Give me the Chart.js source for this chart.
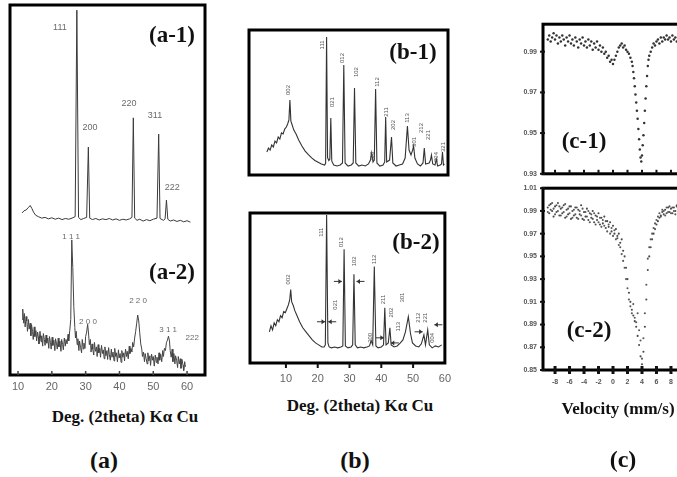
<!DOCTYPE html>
<html><head><meta charset="utf-8">
<script src="https://cdn.jsdelivr.net/npm/chart.js@4.4.1/dist/chart.umd.min.js"></script>
<style>
html,body{margin:0;padding:0;background:#fff;}
body{width:677px;height:477px;overflow:hidden;position:relative;}
canvas{position:absolute;}
.t{position:absolute;font-family:"Liberation Serif","DejaVu Serif",serif;font-weight:bold;color:#111;white-space:nowrap;line-height:1;transform:translate(-50%,-50%);}
.p{font-size:23px;}
.ax{font-size:17px;}
.cap{font-size:24px;}
</style></head><body>
<canvas id="cA" width="215" height="395" style="left:0;top:0"></canvas>
<canvas id="cB1" width="220" height="165" style="left:240px;top:20px"></canvas>
<canvas id="cB2" width="220" height="185" style="left:240px;top:205px"></canvas>
<canvas id="cC1" width="190" height="170" style="left:500px;top:14px"></canvas>
<canvas id="cC2" width="190" height="222" style="left:500px;top:178px"></canvas>

<div class="t p" style="left:172px;top:34px">(a-1)</div>
<div class="t p" style="left:172px;top:271px">(a-2)</div>
<div class="t p" style="left:413px;top:51px">(b-1)</div>
<div class="t p" style="left:416px;top:241px">(b-2)</div>
<div class="t p" style="left:584px;top:140px">(c-1)</div>
<div class="t p" style="left:589px;top:329px">(c-2)</div>
<div class="t ax" style="left:125px;top:416px">Deg. (2theta) Kα Cu</div>
<div class="t ax" style="left:360px;top:405px">Deg. (2theta) Kα Cu</div>
<div class="t ax" style="left:618px;top:408px">Velocity (mm/s)</div>
<div class="t cap" style="left:104px;top:460px">(a)</div>
<div class="t cap" style="left:355px;top:460px">(b)</div>
<div class="t cap" style="left:623px;top:459px">(c)</div>

<script>
// ---------------- DATA ----------------
// (a) XRD, 2theta (deg) vs intensity (arb. units)
const aTickDeg = [10,20,30,40,50,60];
const a1Deg = [11.2,11.8,12.4,13.0,13.6,14.1,14.6,15.2,16.0,17.0,18.0,19.0,20.0,21.0,22.0,23.0,24.0,25.0,26.0,26.9,27.4,27.9,28.6,29.4,30.3,30.8,31.2,32.0,33.0,34.0,35.0,36.0,37.0,38.0,39.0,40.0,41.0,42.0,43.0,43.7,44.1,44.5,45.2,46.0,47.0,48.0,49.0,50.0,51.1,51.6,52.0,53.0,53.5,53.9,54.3,55.0,56.0,57.0,58.0,59.0,60.0,61.0];
const a1Int = [438,444,446,452,458,450,440,432,428,424,426,422,425,421,424,420,423,421,424,428,986,426,420,423,426,616,424,420,423,419,422,420,423,419,422,418,421,419,422,426,695,424,418,421,416,420,417,421,424,651,423,418,422,473,421,416,419,415,418,414,417,413];
const a2Deg = [11.2,11.4,11.7,11.9,12.1,12.4,12.6,12.8,13.1,13.3,
  13.6,13.8,14.0,14.3,14.5,14.8,15.0,15.3,15.5,15.8,
  16.0,16.2,16.5,16.8,17.0,17.3,17.5,17.8,18.0,18.3,
  18.5,18.8,19.1,19.3,19.6,19.8,20.1,20.3,20.6,20.9,
  21.1,21.4,21.6,21.9,22.1,22.4,22.7,22.9,23.2,23.4,
  23.7,24.0,24.2,24.5,24.8,25.0,25.3,25.6,25.9,26.2,
  26.5,26.8,27.0,27.2,27.5,27.7,28.0,28.2,28.5,28.8,
  29.0,29.3,29.5,29.8,30.0,30.3,30.6,30.9,31.1,31.4,
  31.6,31.9,32.1,32.4,32.6,32.9,33.2,33.4,33.7,33.9,
  34.2,34.4,34.7,35.0,35.2,35.5,35.7,36.0,36.3,36.5,
  36.8,37.0,37.3,37.6,37.8,38.1,38.4,38.6,38.9,39.1,
  39.4,39.7,39.9,40.2,40.5,40.7,41.0,41.3,41.5,41.8,
  42.1,42.3,42.6,42.9,43.1,43.4,43.7,43.9,44.2,44.5,
  44.8,45.1,45.4,45.7,46.0,46.3,46.6,46.8,47.1,47.4,
  47.6,47.9,48.2,48.4,48.7,49.0,49.2,49.5,49.8,50.0,
  50.3,50.6,50.9,51.1,51.4,51.7,51.9,52.2,52.5,52.8,
  53.0,53.3,53.6,53.9,54.2,54.5,54.8,55.0,55.3,55.6,
  55.8,56.1,56.4,56.6,56.9,57.2,57.4,57.7,58.0,58.2,
  58.5,58.8,59.0,59.3,59.5];
const a2Int = [150,178,140,166,130,158,146,118,150,124,
  140,106,136,118,96,130,104,120,92,116,
  104,84,118,90,106,78,112,96,80,108,
  86,100,72,104,88,70,102,80,94,66,
  98,84,70,100,76,92,64,96,82,68,
  100,78,96,84,110,92,120,150,365,290,
  185,128,100,118,82,98,66,92,74,60,
  96,70,86,72,104,116,137,108,82,96,
  62,84,70,54,88,64,76,50,82,60,
  72,48,80,58,68,44,76,52,66,42,
  74,56,40,70,48,62,38,72,50,60,
  36,68,46,58,34,66,48,60,38,70,
  50,64,44,78,58,72,62,88,76,100,
  118,140,162,146,114,84,70,50,62,36,
  58,44,30,60,38,52,26,56,40,50,
  24,54,34,48,30,60,40,56,36,66,
  50,72,66,88,94,105,92,66,48,70,
  36,58,30,52,40,20,50,30,44,18,
  42,26,12,36,22];
const a1PeakText = ['111','200','220','311','222'];
const a1PeakDeg = [22.4,31.3,42.8,50.5,55.6];
const a1PeakInt = [938,668,735,700,508];
const a2PeakText = ['1 1 1','2 0 0','2 2 0','3 1 1','222'];
const a2PeakDeg = [25.7,30.7,45.5,54.4,61.5];
const a2PeakInt = [373,143,200,122,100];

// (b) XRD
const bTickDeg = [10,20,30,40,50,60];
const b1Deg = [4.2,4.7,5.2,5.7,6.2,6.7,7.2,7.7,8.2,8.7,9.2,9.7,10.2,10.6,11.0,11.3,11.6,12.0,12.5,13.2,14.0,15.0,16.0,17.0,18.0,19.0,20.0,21.0,22.0,22.3,22.6,22.9,23.3,23.6,23.9,24.2,24.8,25.8,26.8,27.5,27.9,28.3,29.2,30.2,30.8,31.2,31.6,32.5,33.5,34.5,35.5,36.1,36.5,36.9,37.3,37.7,38.1,39.0,40.0,40.5,40.8,41.1,42.0,42.6,43.0,44.0,45.0,46.0,46.8,47.5,48.0,48.6,49.1,49.4,49.8,50.6,51.5,52.3,52.7,53.1,54.2,54.6,54.9,55.3,56.0,56.4,56.8,57.6,58.0,58.3,58.6,58.9];
const b1Int = [159,186,172,207,193,234,221,262,248,290,283,317,331,352,380,517,372,345,310,283,241,200,165,140,118,100,88,76,69,80,952,120,100,110,393,95,69,62,69,83,759,83,62,69,83,600,83,62,69,62,76,103,152,90,103,593,83,62,69,90,400,90,103,262,83,62,69,76,117,338,172,138,172,200,117,76,62,83,186,76,83,103,138,76,69,110,62,69,76,159,69,76];
const b2Deg = [4.8,5.3,5.8,6.3,6.8,7.3,7.8,8.3,8.8,9.3,9.8,10.3,10.8,11.2,11.5,11.8,12.3,12.8,13.5,14.3,15.3,16.3,17.3,18.3,19.3,20.3,21.3,22.0,22.4,22.8,23.2,23.6,24.3,25.3,26.3,27.3,27.9,28.3,28.7,29.5,30.5,31.0,31.4,31.8,32.5,33.5,34.5,35.5,36.3,36.8,37.3,37.8,38.3,39.0,40.0,40.7,41.1,41.5,42.2,42.7,43.1,44.0,45.0,46.0,46.8,47.6,48.5,49.2,49.8,50.8,51.8,52.6,53.4,53.9,54.6,55.1,56.0,57.0,58.0,59.0];
const b2Int = [208,248,221,268,248,289,275,315,302,342,336,362,389,423,490,409,383,349,315,275,235,208,181,154,134,121,107,107,121,987,134,107,101,107,101,107,114,758,114,101,107,121,591,121,101,107,101,107,114,150,121,644,114,101,107,121,369,121,134,235,121,107,114,134,154,208,309,195,134,114,107,128,188,121,221,121,101,114,107,121];
const b1PeakText = ['002','111','021','012','102','200','112','211','202','113','301','212','221','004','321'];
const b1PeakDeg = [10.7,21.4,24.4,27.6,31.9,36.7,38.3,41.1,43.2,47.5,49.7,51.8,54.0,56.4,58.6];
const b1PeakInt = [586,897,503,807,710,126,641,434,345,393,228,324,276,124,193];
const b2PeakText = ['002','111','021','012','102','200','112','211','202','113','301','212','221','004'];
const b2PeakDeg = [10.9,21.0,25.6,27.4,31.4,36.6,37.8,40.8,43.3,45.4,46.6,51.5,53.7,56.1];
const b2PeakInt = [557,872,389,805,678,168,691,423,336,242,436,302,302,168];
const b2ArrowDeg = [22.3,23.3,27.6,32.2,40.8,43.0,53.0,56.7];
const b2ArrowInt = [275,275,544,544,168,134,208,255];
const b2ArrowDir = [1,-1,1,-1,1,-1,1,-1];

// (c) Moessbauer, velocity (mm/s) vs relative transmission
const cVelTicks = [-8,-6,-4,-2,0,2,4,6,8];
const c1TransTicks = [0.93,0.95,0.97,0.99];
const c2TransTicks = [0.85,0.87,0.89,0.91,0.93,0.95,0.97,0.99,1.01];
const c1Vel = [-9.0,-8.8,-8.6,-8.4,-8.2,-8.0,-7.8,-7.6,-7.4,-7.2,-7.0,-6.8,-6.6,-6.4,-6.2,-6.0,-5.8,-5.6,-5.4,-5.2,-5.0,-4.8,-4.6,-4.4,-4.2,-4.0,-3.8,-3.6,-3.4,-3.2,-3.0,-2.8,-2.6,-2.4,-2.2,-2.0,-1.8,-1.6,-1.4,-1.2,-1.0,-0.8,-0.6,-0.4,-0.2,0.0,0.2,0.4,0.6,0.8,1.0,1.2,1.4,1.6,1.8,2.0,2.2,2.4,2.6,2.7,2.8,2.9,3.0,3.1,3.2,3.3,3.4,3.5,3.6,3.7,3.8,3.9,4.0,4.1,4.2,4.3,4.4,4.5,4.6,4.7,4.8,4.9,5.0,5.2,5.4,5.6,5.8,6.0,6.2,6.4,6.6,6.8,7.0,7.2,7.4,7.6,7.8,8.0,8.2,8.4,8.6,8.8,9.0];
const c1Trans = [0.996,0.998,0.995,0.997,0.999,0.996,0.998,0.994,0.997,0.995,0.998,0.996,0.993,0.997,0.995,0.998,0.994,0.996,0.993,0.997,0.995,0.992,0.996,0.994,0.997,0.993,0.995,0.992,0.996,0.993,0.995,0.991,0.994,0.992,0.995,0.991,0.993,0.990,0.992,0.989,0.990,0.987,0.988,0.985,0.986,0.984,0.986,0.988,0.990,0.992,0.993,0.994,0.992,0.993,0.991,0.990,0.989,0.987,0.985,0.983,0.980,0.977,0.973,0.969,0.965,0.961,0.957,0.952,0.947,0.942,0.938,0.936,0.939,0.944,0.949,0.955,0.961,0.967,0.973,0.978,0.983,0.986,0.988,0.990,0.992,0.994,0.993,0.995,0.996,0.994,0.997,0.995,0.997,0.996,0.998,0.996,0.997,0.995,0.998,0.996,0.997,0.995,0.997];
const c2Vel = [-9.0,-8.8,-8.6,-8.4,-8.2,-8.0,-7.8,-7.6,-7.4,-7.2,-7.0,-6.8,-6.6,-6.4,-6.2,-6.0,-5.8,-5.6,-5.4,-5.2,-5.0,-4.8,-4.6,-4.4,-4.2,-4.0,-3.8,-3.6,-3.4,-3.2,-3.0,-2.8,-2.6,-2.4,-2.2,-2.0,-1.8,-1.6,-1.4,-1.2,-1.0,-0.8,-0.6,-0.4,-0.2,0.0,0.2,0.4,0.6,0.8,1.0,1.2,1.4,1.6,1.8,2.0,2.2,2.4,2.6,2.8,3.0,3.2,3.4,3.6,3.8,4.0,4.2,4.4,4.6,4.8,5.0,5.2,5.4,5.6,5.8,6.0,6.2,6.4,6.6,6.8,7.0,7.2,7.4,7.6,7.8,8.0,8.2,8.4,8.6,8.8,9.0];
const c2TransA = [0.993,0.988,0.996,0.990,0.985,0.994,0.989,0.997,0.986,0.992,0.988,0.995,0.984,0.991,0.987,0.994,0.983,0.990,0.986,0.993,0.984,0.991,0.987,0.995,0.983,0.989,0.985,0.992,0.982,0.988,0.984,0.990,0.980,0.986,0.982,0.988,0.978,0.984,0.979,0.985,0.975,0.981,0.976,0.980,0.972,0.977,0.970,0.974,0.966,0.970,0.962,0.965,0.955,0.950,0.940,0.930,0.918,0.910,0.903,0.898,0.893,0.888,0.880,0.872,0.862,0.855,0.866,0.888,0.912,0.938,0.950,0.958,0.965,0.970,0.974,0.978,0.981,0.984,0.986,0.989,0.987,0.991,0.988,0.993,0.989,0.992,0.988,0.993,0.990,0.994,0.989];
const c2TransB = [0.989,0.995,0.991,0.997,0.992,0.987,0.995,0.990,0.994,0.986,0.993,0.989,0.996,0.985,0.992,0.988,0.994,0.984,0.991,0.987,0.993,0.983,0.990,0.986,0.992,0.982,0.989,0.985,0.990,0.980,0.987,0.983,0.988,0.978,0.985,0.980,0.984,0.976,0.982,0.977,0.981,0.972,0.978,0.970,0.975,0.968,0.973,0.965,0.968,0.960,0.958,0.952,0.946,0.940,0.930,0.922,0.912,0.906,0.900,0.908,0.896,0.892,0.900,0.885,0.876,0.860,0.878,0.900,0.925,0.948,0.958,0.965,0.970,0.975,0.979,0.982,0.985,0.988,0.985,0.991,0.990,0.986,0.993,0.989,0.994,0.988,0.993,0.990,0.987,0.995,0.992];

// ---------------- HELPERS ----------------
const pts = (xs, ys) => xs.map((x, i) => ({x, y: ys[i]}));
const fixTicks = vals => s => { s.ticks = vals.map(v => ({value: v})); };

function decor(cfg) {
  return {
    id: 'decor',
    afterDatasetsDraw(chart) {
      const ctx = chart.ctx, a = chart.chartArea, sx = chart.scales.x, sy = chart.scales.y;
      ctx.save();
      if (cfg.labels) {
        cfg.labels.forEach(L => {
          ctx.fillStyle = L.color; ctx.font = L.font;
          ctx.textAlign = 'center'; ctx.textBaseline = 'middle';
          L.text.forEach((t, i) => {
            const px = sx.getPixelForValue(L.x[i]), py = sy.getPixelForValue(L.y[i]);
            if (L.rotate) { ctx.save(); ctx.translate(px, py); ctx.rotate(-Math.PI / 2); ctx.fillText(t, 0, 0); ctx.restore(); }
            else ctx.fillText(t, px, py);
          });
        });
      }
      if (cfg.arrows) {
        const A = cfg.arrows;
        ctx.strokeStyle = '#333'; ctx.fillStyle = '#333'; ctx.lineWidth = 1;
        A.x.forEach((v, i) => {
          const px = sx.getPixelForValue(v), py = sy.getPixelForValue(A.y[i]), d = A.dir[i];
          ctx.beginPath(); ctx.moveTo(px - d * 8, py); ctx.lineTo(px, py); ctx.stroke();
          ctx.beginPath(); ctx.moveTo(px, py); ctx.lineTo(px - d * 3.5, py - 2.5); ctx.lineTo(px - d * 3.5, py + 2.5); ctx.closePath(); ctx.fill();
        });
      }
      ctx.strokeStyle = '#000'; ctx.lineWidth = cfg.lw;
      ctx.strokeRect(a.left, a.top, a.right - a.left, a.bottom - a.top);
      ctx.fillStyle = cfg.tickColor || '#111';
      (cfg.xTicks || []).forEach(v => {
        const p = sx.getPixelForValue(v);
        ctx.fillRect(p - cfg.xTickW / 2, a.bottom + cfg.xTickOff, cfg.xTickW, cfg.xTickLen);
      });
      (cfg.yTicks || []).forEach(v => {
        const p = sy.getPixelForValue(v);
        ctx.fillRect(a.left + cfg.yTickOff, p - cfg.yTickW / 2, cfg.yTickLen, cfg.yTickW);
      });
      ctx.restore();
    }
  };
}

const base = {
  responsive: false, animation: false, events: [],
  plugins: {legend: {display: false}, tooltip: {enabled: false}}
};
const lineDs = (d, c, w) => ({data: d, borderColor: c, borderWidth: w, pointRadius: 0, tension: 0, fill: false});
const hiddenY = (min, max) => ({display: false, min, max});
const xAxis = (min, max, vals, h, pad, font, color, cb) => ({
  type: 'linear', min, max, afterBuildTicks: fixTicks(vals), afterFit: s => { s.height = h; },
  grid: {display: false, drawTicks: false}, border: {display: false},
  ticks: {color, font, padding: pad, maxRotation: 0, autoSkip: false, callback: cb || (v => String(v))}
});

// ---------------- (a) ----------------
new Chart(document.getElementById('cA'), {
  type: 'line',
  data: {datasets: [lineDs(pts(a1Deg, a1Int), '#3a3a3a', 1), lineDs(pts(a2Deg, a2Int), '#444', 1)]},
  options: Object.assign({}, base, {
    layout: {padding: {left: 10, top: 5, right: 10, bottom: 0}},
    scales: {
      x: xAxis(7.63, 65.3, aTickDeg, 20, 5, {family: 'Liberation Sans', size: 11}, '#666'),
      y: hiddenY(0, 1000)
    }
  }),
  plugins: [decor({
    lw: 3, xTicks: aTickDeg, xTickW: 1.5, xTickOff: -4, xTickLen: 4, tickColor: '#444',
    labels: [
      {text: a1PeakText, x: a1PeakDeg, y: a1PeakInt, font: '9px "Liberation Sans"', color: '#6a6a6a'},
      {text: a2PeakText, x: a2PeakDeg, y: a2PeakInt, font: '8px "Liberation Sans"', color: '#6a6a6a'}
    ]
  })]
});

// ---------------- (b-1) ----------------
new Chart(document.getElementById('cB1'), {
  type: 'line',
  data: {datasets: [lineDs(pts(b1Deg, b1Int), '#333', 1.1)]},
  options: Object.assign({}, base, {
    layout: {padding: {left: 9, top: 10, right: 12, bottom: 10}},
    scales: {x: {type: 'linear', display: false, min: -1.3, max: 60}, y: hiddenY(0, 1000)}
  }),
  plugins: [decor({
    lw: 3,
    labels: [{text: b1PeakText, x: b1PeakDeg, y: b1PeakInt, font: '6px "Liberation Sans"', color: '#555', rotate: true}]
  })]
});

// ---------------- (b-2) ----------------
new Chart(document.getElementById('cB2'), {
  type: 'line',
  data: {datasets: [lineDs(pts(b2Deg, b2Int), '#333', 1.1)]},
  options: Object.assign({}, base, {
    layout: {padding: {left: 10, top: 8, right: 10, bottom: 0}},
    scales: {
      x: xAxis(-1.3, 60, bTickDeg, 27, 9, {family: 'Liberation Sans', size: 11}, '#666'),
      y: hiddenY(0, 1000)
    }
  }),
  plugins: [decor({
    lw: 3, xTicks: bTickDeg.slice(0, 5), xTickW: 2, xTickOff: 0, xTickLen: 5,
    labels: [{text: b2PeakText, x: b2PeakDeg, y: b2PeakInt, font: '6px "Liberation Sans"', color: '#555', rotate: true}],
    arrows: {x: b2ArrowDeg, y: b2ArrowInt, dir: b2ArrowDir}
  })]
});

// ---------------- (c) ----------------
const cYAxis = (min, max, vals) => ({
  type: 'linear', min, max, afterBuildTicks: fixTicks(vals), afterFit: s => { s.width = 43; },
  grid: {display: false, drawTicks: false}, border: {display: false},
  ticks: {color: '#555', font: {family: 'Liberation Sans', size: 7, weight: 'bold'}, padding: 6, autoSkip: false, callback: v => v.toFixed(2)}
});
const dots = (d, c, r) => ({data: d, backgroundColor: c, borderWidth: 0, pointRadius: r, showLine: false});

new Chart(document.getElementById('cC1'), {
  type: 'scatter',
  data: {datasets: [dots(pts(c1Vel, c1Trans), '#333', 1.25)]},
  options: Object.assign({}, base, {
    layout: {padding: {left: 0, top: 10, right: 7, bottom: 9}},
    scales: {x: {type: 'linear', display: false, min: -9.66, max: 9.66}, y: cYAxis(0.93, 1.0035, c1TransTicks)}
  }),
  plugins: [decor({lw: 3, xTicks: cVelTicks, xTickW: 2, xTickOff: -4, xTickLen: 4,
    yTicks: c1TransTicks, yTickW: 2, yTickOff: -3, yTickLen: 5})]
});

new Chart(document.getElementById('cC2'), {
  type: 'scatter',
  data: {datasets: [dots(pts(c2Vel, c2TransA), '#4a4a4a', 1.05), dots(pts(c2Vel, c2TransB), '#5a5a5a', 1.05)]},
  options: Object.assign({}, base, {
    layout: {padding: {left: 0, top: 8, right: 7, bottom: 0}},
    scales: {
      x: xAxis(-9.66, 9.66, cVelTicks, 30, 8, {family: 'Liberation Sans', size: 7, weight: 'bold'}, '#555'),
      y: cYAxis(0.85, 1.01, c2TransTicks)
    }
  }),
  plugins: [decor({lw: 3, xTicks: cVelTicks, xTickW: 3, xTickOff: -4, xTickLen: 8,
    yTicks: c2TransTicks, yTickW: 2, yTickOff: -3, yTickLen: 5})]
});
</script>
</body></html>
